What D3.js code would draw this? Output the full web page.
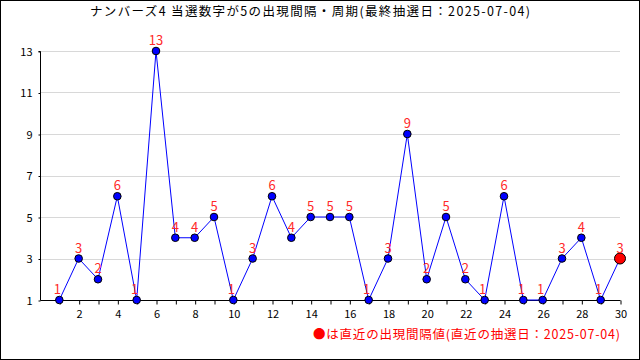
<!DOCTYPE html>
<html>
<head>
<meta charset="utf-8">
<script src="https://cdn.jsdelivr.net/npm/d3@7"></script>
<style>
  body { margin: 0; background: #fff; }
  text { font-family: "Noto Sans CJK JP", "DejaVu Sans", sans-serif; }
</style>
</head>
<body>
<svg width="640" height="360"></svg>
<script>
// 出現間隔データ
var draws = d3.range(1, 31);
var gaps = [1, 3, 2, 6, 1, 13, 4, 4, 5, 1, 3, 6, 4, 5, 5, 5, 1, 3, 9, 2, 5, 2, 1, 6, 1, 1, 3, 4, 1, 3];
var yTicks = [1, 3, 5, 7, 9, 11, 13];
var title = "ナンバーズ4 当選数字が5の出現間隔・周期(最終抽選日：2025-07-04)";
var note = "●は直近の出現間隔値(直近の抽選日：2025-07-04)";

var svg = d3.select("svg");
var width = 640, height = 360;

svg.append("rect")
   .attr("x", 0.5).attr("y", 0.5)
   .attr("width", width - 1).attr("height", height - 1)
   .attr("fill", "#fff").attr("stroke", "#000");

var xScale = d3.scaleLinear().domain([0, 30]).range([40, 620]);
var yScale = d3.scaleLinear().domain([1, 13]).range([300, 51]);

// grid
svg.selectAll(".grid")
  .data(yTicks)
  .enter()
  .append("line")
    .attr("x1", 40).attr("x2", 620)
    .attr("y1", d => Math.round(yScale(d)) + 0.5)
    .attr("y2", d => Math.round(yScale(d)) + 0.5)
    .attr("stroke", "#d8d8d8");

// y axis
var yAxis = svg.append("g")
   .attr("transform", "translate(40.5,0.5)")
   .call(d3.axisLeft(yScale).tickValues(yTicks).tickSize(2).tickPadding(6));
yAxis.select(".domain").attr("d", "M-2," + yScale(13) + "H0V" + yScale(1));
yAxis.selectAll("text").attr("font-size", 11).attr("fill", "#000");

// x axis
var xAxis = svg.append("g")
   .attr("transform", "translate(0.5," + (yScale(1) + 0.5) + ")")
   .call(d3.axisBottom(xScale).tickValues(draws).tickSize(4).tickPadding(6)
         .tickFormat(d => d % 2 === 0 ? d : ""));
xAxis.select(".domain").attr("d", "M40,0H620");
xAxis.selectAll("text").attr("font-size", 11).attr("fill", "#000");

// line
var line = d3.line()
  .x((d, i) => xScale(draws[i]))
  .y(d => yScale(d));

svg.append("path")
   .datum(gaps)
   .attr("d", line)
   .attr("fill", "none")
   .attr("stroke", "#0000ff")
   .attr("stroke-width", 1);

// points
svg.selectAll(".pt")
  .data(gaps)
  .enter()
  .append("circle")
    .attr("cx", (d, i) => xScale(draws[i]))
    .attr("cy", d => yScale(d))
    .attr("r", (d, i) => i === gaps.length - 1 ? 5.5 : 3.8)
    .attr("fill", (d, i) => i === gaps.length - 1 ? "#ff0000" : "#0000ff")
    .attr("stroke", "#000")
    .attr("stroke-width", 1);

// value labels
svg.selectAll(".lbl")
  .data(gaps)
  .enter()
  .append("text")
    .text(d => d)
    .attr("x", (d, i) => xScale(draws[i]) - (d === 1 ? 2 : 0))
    .attr("y", d => yScale(d) - 6)
    .attr("text-anchor", "middle")
    .attr("font-size", 13)
    .attr("fill", "#ff2a2a");

// title
svg.append("text")
   .text(title)
   .attr("x", 90).attr("y", 16)
   .attr("textLength", 440)
   .attr("lengthAdjust", "spacing")
   .attr("font-size", 12.5)
   .attr("fill", "#000");

// note
svg.append("text")
   .text(note)
   .attr("x", 313).attr("y", 339)
   .attr("textLength", 307)
   .attr("lengthAdjust", "spacing")
   .attr("font-size", 12.5)
   .attr("fill", "#ff0000");
</script>
</body>
</html>
